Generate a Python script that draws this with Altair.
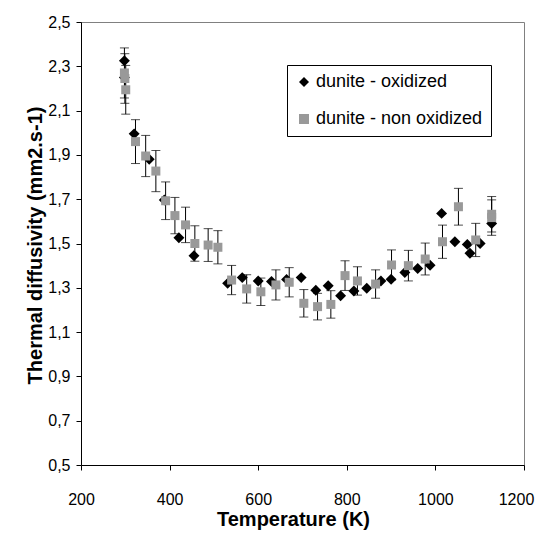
import altair as alt
import pandas as pd

# dunite - oxidized (black diamonds)
ox_T = [298, 298, 320, 354, 388, 421, 455, 531, 564, 600, 630, 664, 697, 730, 758,
        786, 816, 845, 877, 900, 931, 960, 988, 1014, 1044, 1072, 1078, 1101, 1127]
ox_D = [2.325, 2.25, 1.995, 1.88, 1.696, 1.526, 1.445, 1.320, 1.346, 1.331, 1.328, 1.338,
        1.346, 1.289, 1.309, 1.264, 1.286, 1.298, 1.331, 1.339, 1.369, 1.387, 1.402,
        1.636, 1.508, 1.496, 1.456, 1.50, 1.59]

# dunite - non oxidized (grey squares) with error bars
no_T = [298, 299, 301, 323, 346, 369, 391, 412, 436, 457, 487, 509, 540, 574, 606, 640,
        670, 703, 734, 764, 796, 824, 865, 901, 939, 977, 1016, 1052, 1091, 1127, 1127]
no_D = [2.27, 2.245, 2.194, 1.96, 1.895, 1.827, 1.693, 1.626, 1.584, 1.50, 1.493, 1.483,
        1.335, 1.295, 1.282, 1.313, 1.325, 1.23, 1.215, 1.225, 1.355, 1.331, 1.317, 1.403,
        1.40, 1.43, 1.508, 1.666, 1.516, 1.632, 1.617]
no_E = [0.113, 0.112, 0.110, 0.099, 0.093, 0.093, 0.085, 0.082, 0.080, 0.080, 0.074, 0.075,
        0.066, 0.064, 0.062, 0.068, 0.066, 0.062, 0.060, 0.062, 0.067, 0.064, 0.064, 0.068,
        0.069, 0.072, 0.075, 0.083, 0.075, 0.080, 0.080]

series_names = ["dunite - oxidized", "dunite - non oxidized"]
x_ticks = [200, 400, 600, 800, 1000, 1200]
y_ticks = [0.5, 0.7, 0.9, 1.1, 1.3, 1.5, 1.7, 1.9, 2.1, 2.3, 2.5]

ox = pd.DataFrame({"T": ox_T, "D": ox_D, "series": series_names[0]})
no = pd.DataFrame({"T": no_T, "D": no_D, "E": no_E, "series": series_names[1]})
no["lo"] = no["D"] - no["E"]
no["hi"] = no["D"] + no["E"]

FONT = "Liberation Sans"

xscale = alt.Scale(domain=[200, 1200], nice=False, zero=False)
yscale = alt.Scale(domain=[0.5, 2.5], nice=False, zero=False)

xaxis = alt.Axis(values=x_ticks, title="Temperature (K)", grid=False, format="d",
                 labelFlush=False, labelOverlap=False,
                 labelOffset={"expr": "datum.value == 1200 ? -8 : 0"},
                 labelFontSize=16, labelPadding=21, tickSize=5,
                 titleFontSize=20, titleFontWeight="bold",
                 titleX=212, titleY=60, titleBaseline="alphabetic", titleAlign="center")
yaxis = alt.Axis(values=y_ticks, title="Thermal diffusivity (mm2.s-1)", grid=False,
                 labelExpr="replace(format(datum.value, '.1f'), '.', ',')",
                 labelFlush=False, labelOverlap=False,
                 labelFontSize=16, labelPadding=6, tickSize=5,
                 titleFontSize=20, titleFontWeight="bold", titleAngle=270,
                 titleX=-40, titleY=223, titleBaseline="alphabetic", titleAlign="center")

color = alt.Color("series:N",
                  scale=alt.Scale(domain=series_names, range=["#000000", "#999999"]),
                  legend=alt.Legend(title=None, orient="none", legendX=206, legendY=43,
                                    strokeColor="#000000", fillColor="#ffffff",
                                    padding=8, rowPadding=19, labelFontSize=18,
                                    labelFont=FONT, labelLimit=400, symbolSize=100,
                                    labelOffset=3, symbolStrokeWidth=0))
shape = alt.Shape("series:N",
                  scale=alt.Scale(domain=series_names, range=["diamond", "square"]),
                  legend=None)

black_pts = alt.Chart(ox).mark_point(filled=True, size=120, opacity=1).encode(
    x=alt.X("T:Q", scale=xscale, axis=xaxis),
    y=alt.Y("D:Q", scale=yscale, axis=yaxis),
    color=color, shape=shape)

bars = alt.Chart(no).mark_rule(color="#000000", strokeWidth=1).encode(
    x="T:Q", y="lo:Q", y2="hi:Q")
caps_hi = alt.Chart(no).mark_tick(color="#000000", orient="horizontal", size=9,
                                  thickness=1).encode(x="T:Q", y="hi:Q")
caps_lo = alt.Chart(no).mark_tick(color="#000000", orient="horizontal", size=9,
                                  thickness=1).encode(x="T:Q", y="lo:Q")

grey_pts = alt.Chart(no).mark_point(filled=True, size=81, opacity=1).encode(
    x="T:Q", y="D:Q", color=color, shape=shape)

chart = alt.layer(black_pts, bars, caps_hi, caps_lo, grey_pts).properties(
    width=443, height=443,
    autosize=alt.AutoSizeParams(type="none"),
    padding={"left": 73, "top": 14, "right": 11, "bottom": 65},
).configure(font=FONT).configure_view(
    stroke="#808080", strokeWidth=1
).configure_axis(
    domainColor="#000000", tickColor="#000000", labelColor="#000000",
    titleColor="#000000", labelFont=FONT, titleFont=FONT
)

chart.save("out.html", embed_options={"renderer": "svg", "actions": False})
